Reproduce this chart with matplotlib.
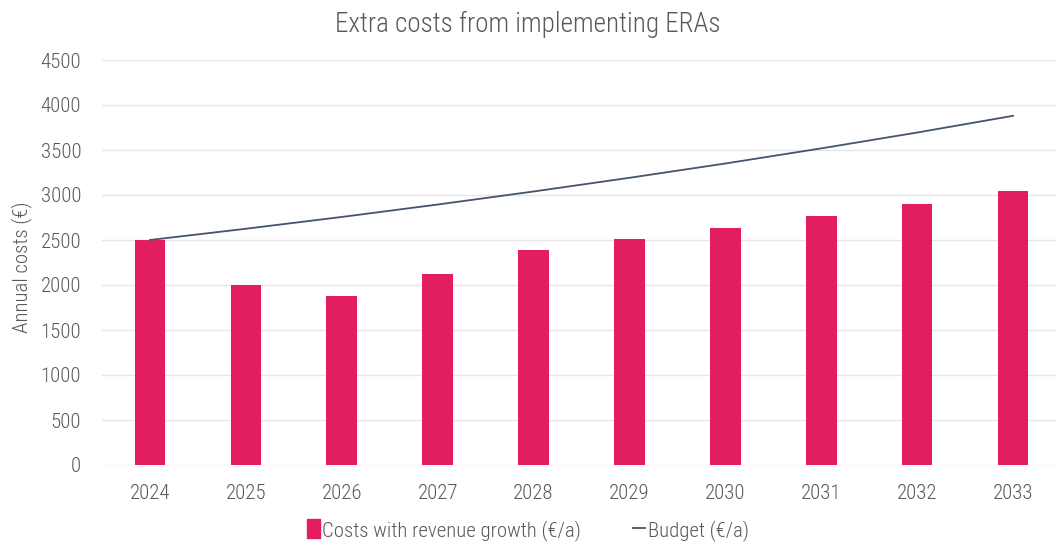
import numpy as np
import matplotlib.pyplot as plt
from matplotlib.lines import Line2D
from matplotlib.patches import Patch

# values
years = ['2024', '2025', '2026', '2027', '2028', '2029', '2030', '2031', '2032', '2033']
costs = [2500, 2000, 1878, 2119, 2385, 2507, 2633, 2763, 2900, 3044]
budget = [2500, 2625, 2756, 2894, 3039, 3191, 3350, 3518, 3694, 3880]

plt.rcParams['font.family'] = ['Roboto Condensed', 'Roboto', 'DejaVu Sans']
plt.rcParams['font.weight'] = 'light'
grey = '#595959'
bar_col = '#E31E5F'
line_col = '#44546A'

fig = plt.figure(figsize=(10.56, 5.49), dpi=100)
ax = fig.add_axes([102 / 1056, 1 - 465 / 549, 959 / 1056, 405 / 549])

x = np.arange(len(years))
ax.bar(x, costs, width=0.32, color=bar_col, zorder=2)
ax.plot(x, budget, color=line_col, lw=1.3, zorder=3)

ax.set_xlim(-0.5, len(years) - 0.5)
ax.set_ylim(0, 4500)
ax.set_yticks(np.arange(0, 4501, 500))
ax.set_xticks(x)
ax.set_xticklabels(years)
ax.grid(axis='y', color='#e6e6e6', lw=1, zorder=0)
for s in ax.spines.values():
    s.set_visible(False)
ax.tick_params(length=0, labelsize=15, colors=grey, pad=14)
ax.tick_params(axis='y', pad=15)

fig.text(22 / 1056, 1 - 267 / 549, 'Annual costs (€)', rotation=90, ha='center',
         va='center', fontsize=15, color=grey)
fig.text(0.5, 1 - 24 / 549, 'Extra costs from implementing ERAs', ha='center', va='center',
         fontsize=19.5, color=grey)

handles = [Patch(color=bar_col), Line2D([], [], color=line_col, lw=1.3)]
leg = fig.legend(handles, ['Costs with revenue growth (€/a)', 'Budget (€/a)'],
                 loc='center', bbox_to_anchor=(0.5, 1 - 530 / 549), ncol=2, frameon=False,
                 fontsize=15, handlelength=0.6, handleheight=1.0, handletextpad=0.1,
                 columnspacing=2.5)
for t in leg.get_texts():
    t.set_color(grey)

fig.savefig('out.png', dpi=100)
